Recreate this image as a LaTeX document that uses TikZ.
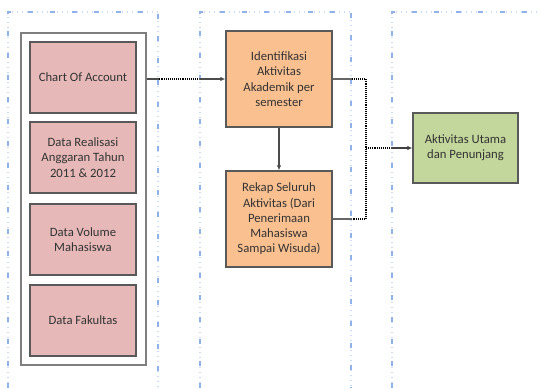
\documentclass[tikz,border=0pt]{standalone}
\usepackage{fontspec}
\setmainfont{Carlito}
\usetikzlibrary{arrows.meta}
\definecolor{pinkfill}{HTML}{E6B9B8}
\definecolor{orangefill}{HTML}{FAC090}
\definecolor{greenfill}{HTML}{C3D69B}
\definecolor{boxline}{HTML}{595959}
\definecolor{colline}{HTML}{8FB3E8}
\definecolor{txt}{HTML}{333333}
\definecolor{conn}{HTML}{7F7F7F}
\tikzset{
  colfaint/.style={draw=colline!45, line width=1.1pt, dash pattern=on 1pt off 4pt},
  colborder/.style={draw=colline, line width=1.3pt, dash pattern=on 5pt off 17pt},
  databox/.style={draw=boxline, line width=1.3pt, fill=pinkfill, minimum width=106pt, minimum height=71pt, align=center, text=txt, font=\fontsize{12.7}{15.3}\selectfont, inner sep=0pt},
  procbox/.style={draw=boxline, line width=1.3pt, fill=orangefill, minimum width=106pt, minimum height=96pt, align=center, text=txt, font=\fontsize{12.7}{15.3}\selectfont, inner sep=0pt},
  outbox/.style={draw=boxline, line width=1.3pt, fill=greenfill, minimum width=105pt, minimum height=70pt, align=center, text=txt, font=\fontsize{12.7}{15.3}\selectfont, inner sep=0pt},
  container/.style={draw=conn, line width=1.4pt, fill=white, minimum width=125pt, minimum height=332pt},
  connline/.style={line width=1.1pt},
  gapline/.style={draw=black, line width=1.1pt, densely dotted},
  tip/.style={-{Latex[length=5pt,width=4.5pt]}}
}
\begin{document}
\begin{tikzpicture}[x=1pt,y=-1pt]
\useasboundingbox[fill=white] (0,0) rectangle (540,388);
% column borders
\foreach \s in {colfaint,colborder}{
  \draw[\s] (8,388) -- (8,12) -- (158,12) -- (158,388);
  \draw[\s] (200,388) -- (200,12) -- (351,12) -- (351,388);
  \draw[\s] (392,388) -- (392,12) -- (540,12);
}
% container and data boxes
\node[container] (cont) at (83.5,199) {};
\node[databox] (c1) at (83,77.5) {Chart Of Account};
\node[databox] (c2) at (83,157.5) {Data Realisasi\\Anggaran Tahun\\2011 \& 2012};
\node[databox] (c3) at (83,239.5) {Data Volume\\Mahasiswa};
\node[databox] (c4) at (83,320.5) {Data Fakultas};
% process boxes
\node[procbox] (o1) at (279,79) {Identifikasi\\Aktivitas\\Akademik per\\semester};
\node[procbox] (o2) at (279,219) {Rekap Seluruh\\Aktivitas (Dari\\Penerimaan\\Mahasiswa\\Sampai Wisuda)};
% output
\node[outbox] (g) at (465.5,148) {Aktivitas Utama\\dan Penunjang};
\coordinate (j) at (366,148);
% connectors
\draw[connline,tip,draw=black!70] (o1.west -| cont.east) -- (o1.west);
\draw[connline,tip,draw=black!70] (o1.south) -- (o2.north);
\draw[connline,draw=black!60] (o1.east) -| (j) |- (o2.east);
\draw[connline,tip,draw=black!75] (j) -- (g.west);
% dotted look in the gaps between columns
\begin{scope}
\clip (159,0) rectangle (199,388) (352,0) rectangle (391,388);
\draw[white, line width=1.1pt] (o1.west -| cont.east) -- (o1.west);
\draw[gapline] (o1.west -| cont.east) -- (o1.west);
\draw[white, line width=1.1pt] (o1.east) -| (j) |- (o2.east);
\draw[gapline] (o1.east) -| (j) |- (o2.east);
\draw[white, line width=1.1pt] (j) -- (g.west);
\draw[gapline] (j) -- (g.west);
\end{scope}
\end{tikzpicture}
\end{document}
